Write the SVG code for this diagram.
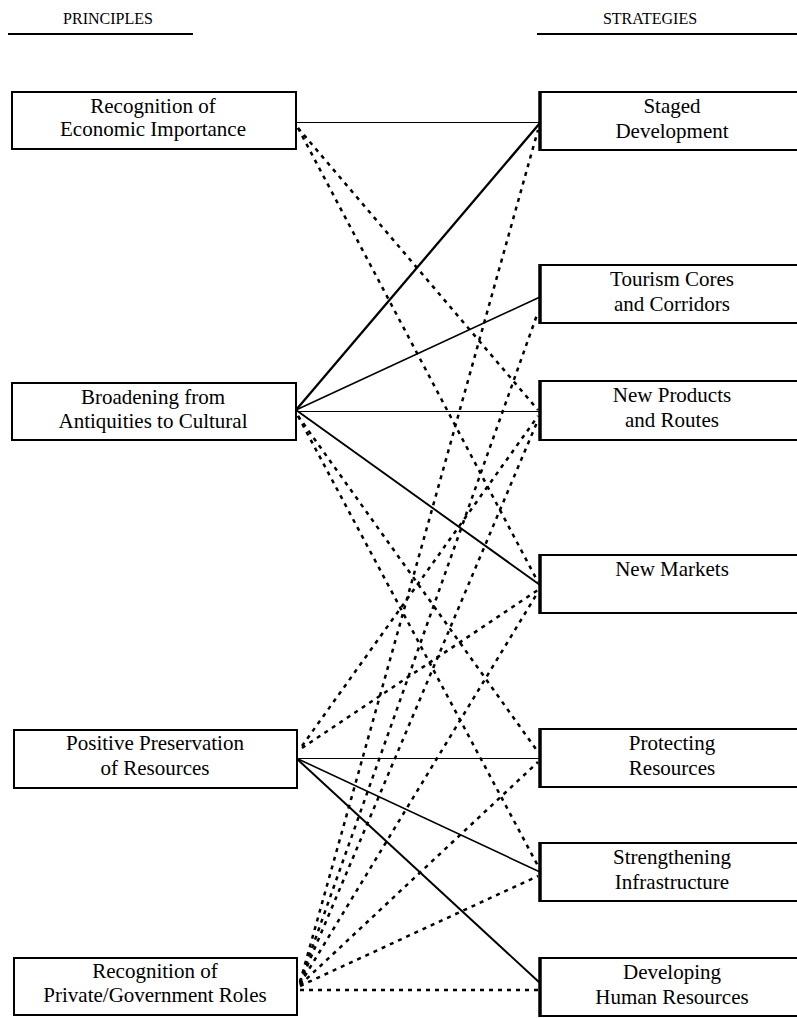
<svg xmlns="http://www.w3.org/2000/svg" width="797" height="1018" viewBox="0 0 797 1018">
<style>
.box{fill:#fff;stroke:#000;stroke-width:2}
.edge{stroke:#000;stroke-width:3.5}
.t{font-family:"Liberation Serif","Times New Roman",serif;font-size:21px;fill:#000;text-anchor:middle}
.h{font-family:"Liberation Serif","Times New Roman",serif;font-size:16px;fill:#000;text-anchor:middle}
.s{stroke:#000;fill:none}
.d{stroke:#000;fill:none;stroke-width:2.5;stroke-dasharray:4 5}
</style>
<rect width="797" height="1018" fill="#fff"/>
<g id="headers">
<text class="h" x="108" y="24">PRINCIPLES</text>
<line x1="8" y1="34" x2="193" y2="34" stroke="#000" stroke-width="2"/>
<text class="h" x="650" y="24">STRATEGIES</text>
<line x1="537" y1="34" x2="797" y2="34" stroke="#000" stroke-width="2"/>
</g>
<g id="connectors">
<line class="s" stroke-width="1" x1="296" y1="122.5" x2="540" y2="122.5"/>
<line class="d" x1="298" y1="128" x2="538" y2="410"/>
<line class="d" x1="298" y1="128" x2="538" y2="582"/>
<line class="s" stroke-width="2.3" x1="296" y1="410" x2="540" y2="123"/>
<line class="s" stroke-width="1.6" x1="296" y1="410" x2="540" y2="297"/>
<line class="s" stroke-width="1" x1="296" y1="411.5" x2="540" y2="411.5"/>
<line class="s" stroke-width="1.9" x1="296" y1="410" x2="540" y2="585"/>
<line class="d" x1="298" y1="416" x2="538" y2="752"/>
<line class="d" x1="298" y1="416" x2="538" y2="866"/>
<line class="d" x1="302" y1="746" x2="538" y2="416"/>
<line class="d" x1="302" y1="748" x2="538" y2="590"/>
<line class="s" stroke-width="1" x1="296" y1="758.5" x2="540" y2="758.5"/>
<line class="s" stroke-width="1.6" x1="296" y1="758" x2="540" y2="872"/>
<line class="s" stroke-width="2" x1="296" y1="758" x2="540" y2="983"/>
<line class="d" x1="300" y1="982" x2="538" y2="130"/>
<line class="d" x1="300" y1="982" x2="538" y2="312"/>
<line class="d" x1="300" y1="983" x2="538" y2="420"/>
<line class="d" x1="300" y1="984" x2="538" y2="592"/>
<line class="d" x1="300" y1="985" x2="538" y2="762"/>
<line class="d" x1="300" y1="986" x2="538" y2="876"/>
<line class="d" stroke-width="2" stroke-dasharray="5 5" x1="300" y1="990" x2="538" y2="990"/>
</g>
<g id="p1">
<rect class="box" x="12" y="92" width="284" height="57"/>
<text class="t" x="153" y="113">Recognition of</text>
<text class="t" x="153" y="136">Economic Importance</text>
</g>
<g id="p2">
<rect class="box" x="12" y="383" width="284" height="57"/>
<text class="t" x="153" y="404">Broadening from</text>
<text class="t" x="153" y="428">Antiquities to Cultural</text>
</g>
<g id="p3">
<rect class="box" x="14" y="730" width="283" height="58"/>
<text class="t" x="155" y="750">Positive Preservation</text>
<text class="t" x="155" y="775">of Resources</text>
</g>
<g id="p4">
<rect class="box" x="14" y="958" width="283" height="57"/>
<text class="t" x="155" y="978">Recognition of</text>
<text class="t" x="155" y="1002">Private/Government Roles</text>
</g>
<g id="s1">
<rect class="box" x="540" y="92" width="270" height="58"/>
<line class="edge" x1="540" y1="91" x2="540" y2="151"/>
<text class="t" x="672" y="113">Staged</text>
<text class="t" x="672" y="138">Development</text>
</g>
<g id="s2">
<rect class="box" x="540" y="265" width="270" height="58"/>
<line class="edge" x1="540" y1="264" x2="540" y2="324"/>
<text class="t" x="672" y="286">Tourism Cores</text>
<text class="t" x="672" y="311">and Corridors</text>
</g>
<g id="s3">
<rect class="box" x="540" y="381" width="270" height="59"/>
<line class="edge" x1="540" y1="380" x2="540" y2="441"/>
<text class="t" x="672" y="402">New Products</text>
<text class="t" x="672" y="427">and Routes</text>
</g>
<g id="s4">
<rect class="box" x="540" y="555" width="270" height="58"/>
<line class="edge" x1="540" y1="554" x2="540" y2="614"/>
<text class="t" x="672" y="576">New Markets</text>
</g>
<g id="s5">
<rect class="box" x="540" y="729" width="270" height="58"/>
<line class="edge" x1="540" y1="728" x2="540" y2="788"/>
<text class="t" x="672" y="750">Protecting</text>
<text class="t" x="672" y="775">Resources</text>
</g>
<g id="s6">
<rect class="box" x="540" y="843" width="270" height="58"/>
<line class="edge" x1="540" y1="842" x2="540" y2="902"/>
<text class="t" x="672" y="864">Strengthening</text>
<text class="t" x="672" y="889">Infrastructure</text>
</g>
<g id="s7">
<rect class="box" x="540" y="958" width="270" height="58"/>
<line class="edge" x1="540" y1="957" x2="540" y2="1017"/>
<text class="t" x="672" y="979">Developing</text>
<text class="t" x="672" y="1004">Human Resources</text>
</g>
</svg>
